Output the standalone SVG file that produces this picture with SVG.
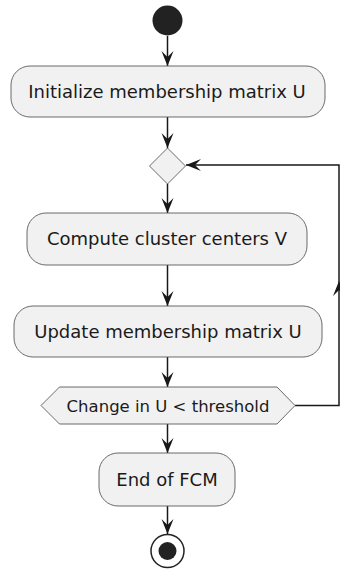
<svg xmlns="http://www.w3.org/2000/svg" width="340" height="569" viewBox="0 0 340 569">
<defs>
<style>
.box{fill:#F1F1F1;stroke:#5A5A5A;stroke-width:0.9}
.t{font-family:"DejaVu Sans",sans-serif;font-size:18px;fill:#1A1A1A;text-anchor:middle}
.ts{font-family:"DejaVu Sans",sans-serif;font-size:16.5px;fill:#1A1A1A;text-anchor:middle}
.edge{fill:none;stroke:#181818;stroke-width:1.5}
</style>
<marker id="ah" viewBox="-16 -7 17 14" markerWidth="17" markerHeight="14" refX="0" refY="0" orient="auto" markerUnits="userSpaceOnUse">
<path d="M0,0 L-15,-6 L-9,0 L-15,6 Z" fill="#181818"/>
</marker>
</defs>
<rect width="340" height="569" fill="#FFFFFF"/>
<g id="connectors">
<path class="edge" d="M167.5,36 V66" marker-end="url(#ah)"/>
<path class="edge" d="M167.5,117 V148" marker-end="url(#ah)"/>
<path class="edge" d="M167.5,184 V213" marker-end="url(#ah)"/>
<path class="edge" d="M167.5,265 V306" marker-end="url(#ah)"/>
<path class="edge" d="M167.5,357 V387" marker-end="url(#ah)"/>
<path class="edge" d="M167.5,424 V453" marker-end="url(#ah)"/>
<path class="edge" d="M167.5,506 V534" marker-end="url(#ah)"/>
<path class="edge" d="M295,405.5 H339 V281" marker-end="url(#ah)"/>
<path class="edge" d="M339,281 V165 H186" marker-end="url(#ah)"/>
</g>
<g id="start">
<circle cx="167.5" cy="20.5" r="15" fill="#222222"/>
</g>
<g id="init">
<rect class="box" x="11" y="66" width="314" height="51" rx="19" ry="19"/>
<text class="t" x="167" y="97.5">Initialize membership matrix U</text>
</g>
<g id="merge">
<polygon class="box" points="167.5,148 185.5,166 167.5,184 149.5,166"/>
</g>
<g id="compute">
<rect class="box" x="27" y="213" width="280" height="52" rx="19" ry="19"/>
<text class="t" x="167" y="245">Compute cluster centers V</text>
</g>
<g id="update">
<rect class="box" x="14" y="306" width="308" height="51" rx="19" ry="19"/>
<text class="t" x="168" y="337.5">Update membership matrix U</text>
</g>
<g id="check">
<polygon class="box" points="41,405.5 59.5,387 277,387 295,405.5 277,424 59.5,424"/>
<text class="ts" x="168" y="412">Change in U &lt; threshold</text>
</g>
<g id="endfcm">
<rect class="box" x="99" y="453" width="136" height="53" rx="19" ry="19"/>
<text class="t" x="167" y="486">End of FCM</text>
</g>
<g id="stop">
<circle cx="167.5" cy="551" r="16.5" fill="#FFFFFF" stroke="#222222" stroke-width="1.5"/>
<circle cx="167.5" cy="551" r="9" fill="#222222"/>
</g>
</svg>
